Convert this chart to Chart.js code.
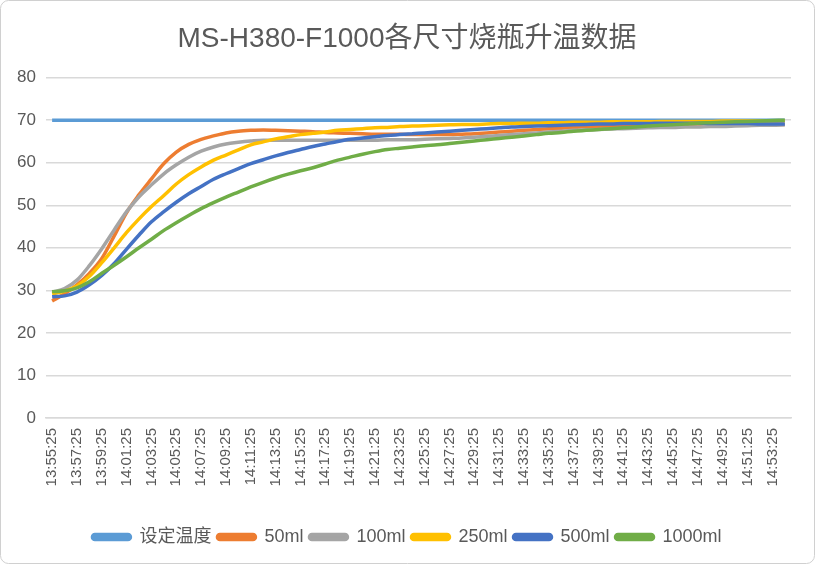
<!DOCTYPE html>
<html>
<head>
<meta charset="utf-8">
<script src="https://cdn.jsdelivr.net/npm/chart.js@4/dist/chart.umd.min.js"></script>
<style>
  html, body { margin: 0; padding: 0; background: #fff; }
  #wrap { width: 815px; height: 564px; position: relative; }
</style>
</head>
<body>
<div id="wrap"><canvas id="chart"></canvas></div>
<script>
// time labels, one per minute
const timeLabels = [
  "13:55:25", "13:56:25", "13:57:25", "13:58:25", "13:59:25", "14:00:25", "14:01:25", "14:02:25", "14:03:25", "14:04:25",
  "14:05:25", "14:06:25", "14:07:25", "14:08:25", "14:09:25", "14:10:25", "14:11:25", "14:12:25", "14:13:25", "14:14:25",
  "14:15:25", "14:16:25", "14:17:25", "14:18:25", "14:19:25", "14:20:25", "14:21:25", "14:22:25", "14:23:25", "14:24:25",
  "14:25:25", "14:26:25", "14:27:25", "14:28:25", "14:29:25", "14:30:25", "14:31:25", "14:32:25", "14:33:25", "14:34:25",
  "14:35:25", "14:36:25", "14:37:25", "14:38:25", "14:39:25", "14:40:25", "14:41:25", "14:42:25", "14:43:25", "14:44:25",
  "14:45:25", "14:46:25", "14:47:25", "14:48:25", "14:49:25", "14:50:25", "14:51:25", "14:52:25", "14:53:25", "14:54:25"
];

const setTemp = [
  70, 70, 70, 70, 70, 70, 70, 70, 70, 70,
  70, 70, 70, 70, 70, 70, 70, 70, 70, 70,
  70, 70, 70, 70, 70, 70, 70, 70, 70, 70,
  70, 70, 70, 70, 70, 70, 70, 70, 70, 70,
  70, 70, 70, 70, 70, 70, 70, 70, 70, 70,
  70, 70, 70, 70, 70, 70, 70, 70, 70, 70
];

const flask50 = [
  27.5, 29.2, 31.3, 34.0, 37.5, 42.8, 48.3, 52.5, 56.2, 59.8,
  62.5, 64.3, 65.5, 66.3, 67.0, 67.4, 67.6, 67.7, 67.6, 67.5,
  67.4, 67.3, 67.1, 67.0, 66.9, 66.8, 66.7, 66.7, 66.7, 66.6,
  66.6, 66.6, 66.6, 66.7, 66.8, 67.0, 67.2, 67.4, 67.6, 67.8,
  68.0, 68.1, 68.3, 68.4, 68.5, 68.6, 68.6, 68.7, 68.7, 68.7,
  68.8, 68.8, 68.8, 68.9, 68.9, 68.9, 68.9, 69.0, 69.0, 69.0
];

const flask100 = [
  29.6, 30.4, 32.4, 35.8, 39.8, 44.2, 48.5, 52.0, 54.8, 57.4,
  59.5, 61.3, 62.7, 63.7, 64.4, 64.8, 65.1, 65.3, 65.3, 65.3,
  65.3, 65.3, 65.3, 65.3, 65.3, 65.3, 65.3, 65.4, 65.4, 65.4,
  65.5, 65.6, 65.7, 65.8, 66.0, 66.2, 66.4, 66.6, 66.8, 67.0,
  67.2, 67.4, 67.6, 67.7, 67.8, 67.9, 68.0, 68.1, 68.2, 68.3,
  68.3, 68.4, 68.4, 68.5, 68.5, 68.6, 68.7, 68.8, 68.8, 68.9
];

const flask250 = [
  29.2, 29.8, 31.0, 33.3, 36.5, 40.0, 43.6, 46.8, 49.7, 52.3,
  55.0, 57.2, 59.0, 60.6, 61.8, 63.0, 64.2, 64.9, 65.6, 66.1,
  66.6, 66.9, 67.2, 67.6, 67.8, 68.0, 68.2, 68.3, 68.5, 68.6,
  68.7, 68.8, 68.9, 69.0, 69.0, 69.1, 69.2, 69.2, 69.3, 69.3,
  69.4, 69.4, 69.5, 69.5, 69.5, 69.6, 69.6, 69.6, 69.6, 69.7,
  69.7, 69.7, 69.7, 69.7, 69.8, 69.8, 69.8, 69.8, 69.8, 69.8
];

const flask500 = [
  28.5, 28.7, 29.6, 31.3, 33.5, 36.3, 39.7, 43.0, 46.1, 48.5,
  50.7, 52.7, 54.4, 56.1, 57.4, 58.6, 59.8, 60.7, 61.6, 62.4,
  63.1, 63.8, 64.4, 65.0, 65.5, 65.8, 66.1, 66.4, 66.6, 66.8,
  67.0, 67.2, 67.4, 67.6, 67.8, 68.0, 68.2, 68.4, 68.5, 68.6,
  68.7, 68.8, 68.9, 69.0, 69.1, 69.1, 69.2, 69.2, 69.2, 69.3,
  69.3, 69.3, 69.3, 69.2, 69.2, 69.2, 69.2, 69.1, 69.1, 69.1
];

const flask1000 = [
  29.7, 29.9, 30.6, 32.0, 34.0, 35.9, 37.9, 40.0, 42.0, 44.1,
  45.9, 47.6, 49.2, 50.6, 51.9, 53.1, 54.3, 55.4, 56.4, 57.3,
  58.1, 58.8, 59.7, 60.6, 61.3, 62.0, 62.6, 63.1, 63.4, 63.7,
  64.0, 64.2, 64.5, 64.8, 65.1, 65.4, 65.7, 66.0, 66.3, 66.6,
  66.9, 67.1, 67.4, 67.6, 67.8, 68.0, 68.2, 68.4, 68.6, 68.8,
  68.9, 69.1, 69.3, 69.4, 69.5, 69.6, 69.7, 69.8, 69.9, 70.0
];

const seriesNames = ["设定温度", "50ml", "100ml", "250ml", "500ml", "1000ml"];
const seriesData = [setTemp, flask50, flask100, flask250, flask500, flask1000];
const seriesColors = ["#5B9BD5", "#ED7D31", "#A5A5A5", "#FFC000", "#4472C4", "#70AD47"];

const FONT = "'Liberation Sans', 'Noto Sans CJK SC', Arial, sans-serif";
const TEXT = "#595959";

// white background + thin rounded frame like the excel chart area
const frame = {
  id: "frame",
  beforeDraw(chart) {
    const ctx = chart.ctx;
    ctx.save();
    ctx.fillStyle = "#fff";
    ctx.fillRect(0, 0, chart.width, chart.height);
    ctx.strokeStyle = "#d0d0d0";
    ctx.lineWidth = 1;
    ctx.beginPath();
    ctx.roundRect(0.5, 0.5, chart.width - 1, chart.height - 1, 8);
    ctx.stroke();
    ctx.restore();
  }
};

const datasets = seriesNames.map((name, i) => ({
  label: name,
  data: seriesData[i],
  borderColor: seriesColors[i],
  backgroundColor: seriesColors[i],
  borderWidth: 3.5,
  pointRadius: 0,
  cubicInterpolationMode: "monotone",
  order: seriesNames.length - i // later series drawn on top
}));

new Chart(document.getElementById("chart"), {
  type: "line",
  data: { labels: timeLabels, datasets: datasets },
  options: {
    responsive: true,
    maintainAspectRatio: false,
    animation: false,
    layout: { padding: { left: 7, right: 8, top: 8, bottom: 8 } },
    plugins: {
      title: {
        display: true,
        text: "MS-H380-F1000各尺寸烧瓶升温数据",
        color: TEXT,
        font: { family: FONT, size: 28, weight: "normal" },
        padding: { top: 14, bottom: 22 }
      },
      legend: {
        position: "bottom",
        labels: {
          color: TEXT,
          font: { family: FONT, size: 18 },
          boxWidth: 38,
          boxHeight: 5,
          useBorderRadius: true,
          borderRadius: 2.5,
          padding: 6,
          sort: (a, b) => a.datasetIndex - b.datasetIndex
        }
      },
      tooltip: { enabled: false }
    },
    scales: {
      x: {
        offset: true,
        grid: { display: false, drawTicks: false },
        border: { display: true, color: "#d9d9d9", width: 1.5 },
        ticks: {
          color: TEXT,
          font: { family: FONT, size: 15 },
          autoSkip: false,
          minRotation: 90,
          maxRotation: 90,
          padding: 10,
          callback: function (val, idx) {
            return idx % 2 === 0 ? this.getLabelForValue(val) : "";
          }
        },
        afterFit: (scale) => { scale.height = 104; }
      },
      y: {
        min: 0,
        max: 80,
        ticks: {
          stepSize: 10,
          color: TEXT,
          font: { family: FONT, size: 17 },
          padding: 10
        },
        grid: { color: "#d9d9d9", lineWidth: 1.5, drawTicks: false },
        border: { display: false }
      },
      // empty right-hand spacer so the plot stops short of the frame
      spacer: {
        type: "linear",
        position: "right",
        grid: { display: false, drawTicks: false },
        border: { display: false },
        ticks: { display: false },
        afterFit: (scale) => { scale.width = 16; }
      }
    }
  },
  plugins: [frame]
});
</script>
</body>
</html>
